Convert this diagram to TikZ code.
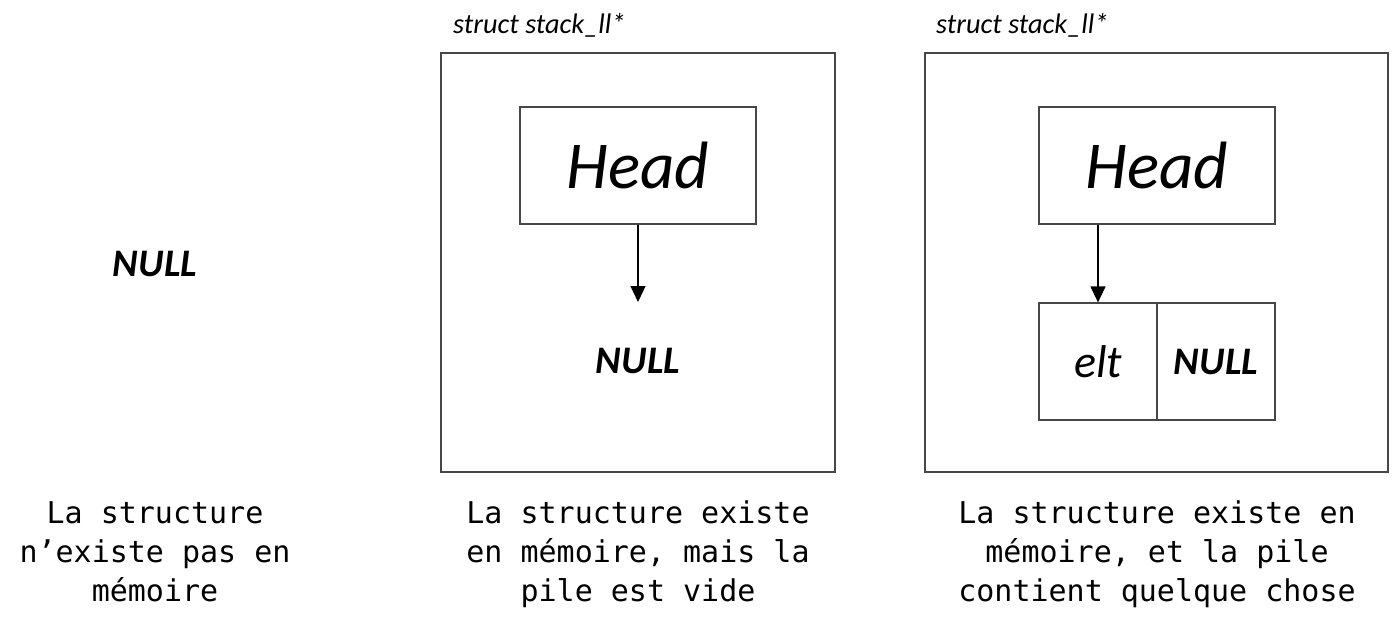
\documentclass[tikz,border=0pt]{standalone}
\usepackage{fontspec}
\setmainfont{Carlito}
\newfontfamily\monof{DejaVu Sans Mono}
\usetikzlibrary{arrows.meta}
\tikzset{
  frame/.style={draw=black!72, line width=1.4pt, inner sep=0pt},
  cell/.style={draw=black!72, line width=1.2pt, inner sep=0pt, minimum height=117pt},
  headtxt/.style={font=\itshape\fontsize{67}{80}\selectfont},
  nulltxt/.style={font=\bfseries\itshape\fontsize{39}{46}\selectfont, inner sep=0pt, anchor=base},
  typetxt/.style={font=\itshape\fontsize{28.3}{34}\selectfont, inner sep=0pt, anchor=base west},
  captxt/.style={font=\monof\fontsize{30}{39}\selectfont, inner sep=0pt, anchor=base},
  ptr/.style={draw=black, line width=1.2pt, -{Triangle[width=15pt,length=16pt]}}
}
\begin{document}
\begin{tikzpicture}[x=1pt,y=-1pt]
\useasboundingbox (0,0) rectangle (1394,627);
% column 1
\node[nulltxt] (null1) at (155,276) {NULL};
\node[captxt] (c1a) at (155,523) {La structure};
\node[captxt] (c1b) at (155,562) {n’existe pas en};
\node[captxt] (c1c) at (155,601) {mémoire};
% column 2
\node[typetxt] (t2) at (453,33) {struct stack\_ll*};
\node[frame, minimum width=394pt, minimum height=419pt] (box2) at (638,262.5) {};
\node[cell, minimum width=236pt, headtxt] (head2) at (638,165.5) {Head};
\coordinate (end2) at (638,302);
\draw[ptr] (head2.south) -- (end2);
\node[nulltxt] (null2) at (638,373) {NULL};
\node[captxt] (c2a) at (638,523) {La structure existe};
\node[captxt] (c2b) at (638,562) {en mémoire, mais la};
\node[captxt] (c2c) at (638,601) {pile est vide};
% column 3
\node[typetxt] (t3) at (936,33) {struct stack\_ll*};
\node[frame, minimum width=463pt, minimum height=419pt] (box3) at (1156.5,262.5) {};
\node[cell, minimum width=236pt, headtxt] (head3) at (1157,165.5) {Head};
\node[cell, minimum width=118pt, font=\itshape\fontsize{46}{54}\selectfont] (elt) at (1098,361.5) {elt};
\node[cell, minimum width=118pt, font=\bfseries\itshape\fontsize{39}{46}\selectfont] (nul3) at (1216,361.5) {NULL};
\draw[ptr] (head3.south -| elt.north) -- (elt.north);
\node[captxt] (c3a) at (1157,523) {La structure existe en};
\node[captxt] (c3b) at (1157,562) {mémoire, et la pile};
\node[captxt] (c3c) at (1157,601) {contient quelque chose};
\end{tikzpicture}
\end{document}
